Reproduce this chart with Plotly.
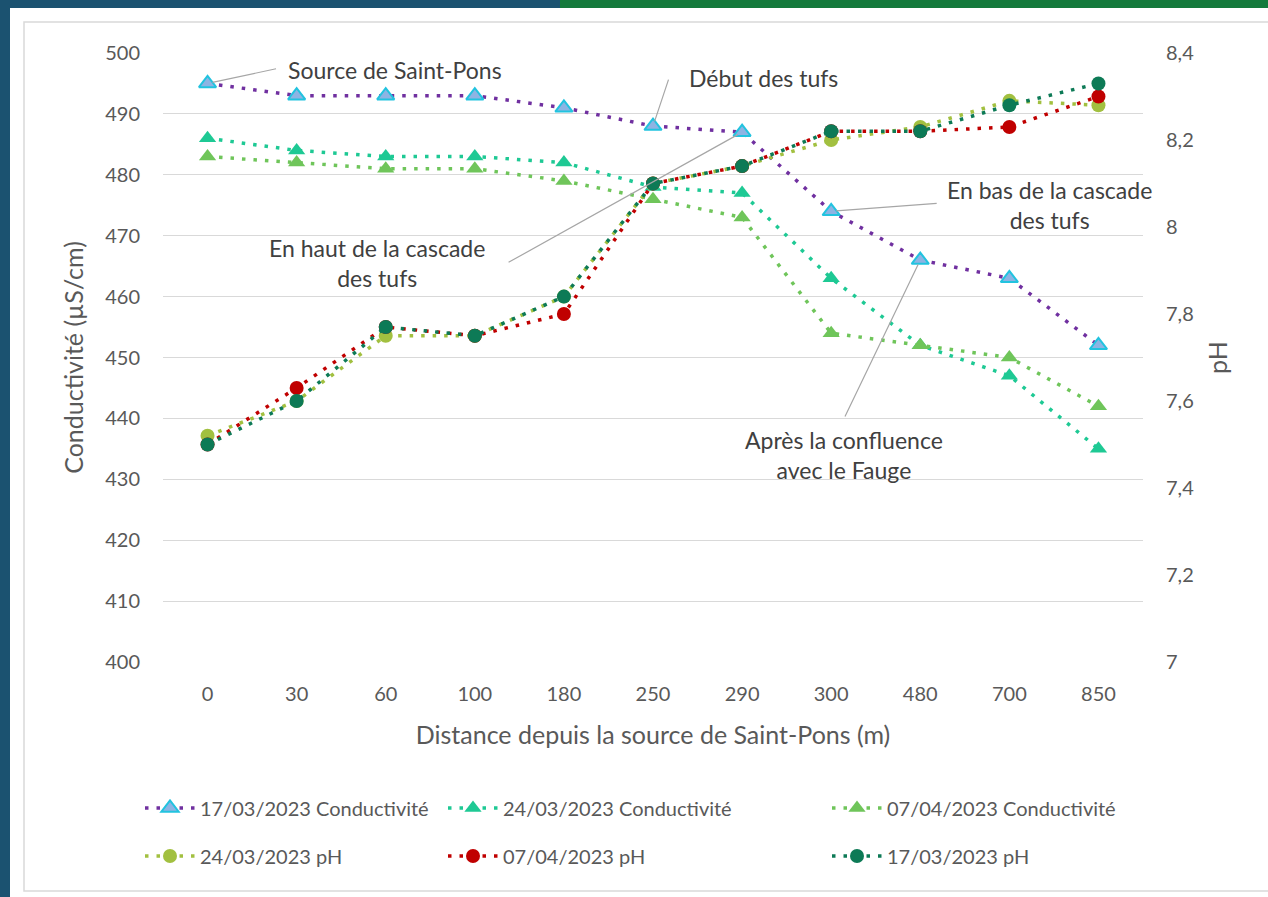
import plotly.graph_objects as go

# ---------------- data ----------------
distance = ["0", "30", "60", "100", "180", "250", "290", "300", "480", "700", "850"]
cond_1703 = [495, 493, 493, 493, 491, 488, 487, 474, 466, 463, 452]
cond_2403 = [486, 484, 483, 483, 482, 478, 477, 463, 452, 447, 435]
cond_0704 = [483, 482, 481, 481, 479, 476, 473, 454, 452, 450, 442]
ph_2403 = [7.52, 7.60, 7.75, 7.75, 7.84, 8.10, 8.14, 8.20, 8.23, 8.29, 8.28]
ph_0704 = [7.50, 7.63, 7.77, 7.75, 7.80, 8.10, 8.14, 8.22, 8.22, 8.23, 8.30]
ph_1703 = [7.50, 7.60, 7.77, 7.75, 7.84, 8.10, 8.14, 8.22, 8.22, 8.28, 8.33]

cond_ticks = [400, 410, 420, 430, 440, 450, 460, 470, 480, 490, 500]
ph_ticks = [7.0, 7.2, 7.4, 7.6, 7.8, 8.0, 8.2, 8.4]
ph_ticktext = ["7", "7,2", "7,4", "7,6", "7,8", "8", "8,2", "8,4"]

# annotated points (category index on the 17/03 conductivity series) and labels
ann_index = [0, 5, 7, 6, 8]
ann_text = ["Source de Saint-Pons", "Début des tufs", "En bas de la cascade<br>des tufs",
            "En haut de la cascade<br>des tufs", "Après la confluence<br>avec le Fauge"]

FONT = "Lato"
TXT = "#595959"
DASH = "3.5px,8px"

W, H = 1268, 897
L, R, T, B = 163, 125, 53, 235
PW, PH = W - L - R, H - T - B


def px2x(px):
    return (px - L) / PW


def py2y(py):
    return (H - B - py) / PH


fig = go.Figure()

series = [
    ("17/03/2023 Conductivité", cond_1703, "y", "#7030a0",
     dict(symbol="triangle-up", size=15, color="#8db4e3", line=dict(color="#22c3df", width=2)), "legend"),
    ("24/03/2023 Conductivité", cond_2403, "y", "#1ec994",
     dict(symbol="triangle-up", size=15, color="#1ec994", line=dict(width=0)), "legend3"),
    ("07/04/2023 Conductivité", cond_0704, "y", "#6fc55a",
     dict(symbol="triangle-up", size=15, color="#6fc55a", line=dict(width=0)), "legend5"),
    ("24/03/2023 pH", ph_2403, "y2", "#a2c040",
     dict(symbol="circle", size=14, color="#a2c040", line=dict(width=0)), "legend2"),
    ("07/04/2023 pH", ph_0704, "y2", "#c00000",
     dict(symbol="circle", size=14, color="#c00000", line=dict(width=0)), "legend4"),
    ("17/03/2023 pH", ph_1703, "y2", "#0d7a56",
     dict(symbol="circle", size=14, color="#0d7a56", line=dict(width=0)), "legend6"),
]

for name, vals, yax, col, mk, lg in series:
    fig.add_trace(go.Scatter(
        x=distance, y=vals, name=name, yaxis=yax, mode="lines+markers",
        line=dict(color=col, width=3.5, dash=DASH),
        marker=mk, legend=lg, showlegend=True,
    ))

# legends: 3 columns x 2 rows, positioned individually
leg_cols = [140, 443, 827]
leg_rows = [808, 856]
legend_layout = {}
names = ["legend", "legend2", "legend3", "legend4", "legend5", "legend6"]
k = 0
for c in leg_cols:
    for r in leg_rows:
        legend_layout[names[k]] = dict(
            x=px2x(c), y=py2y(r), xanchor="left", yanchor="middle",
            bgcolor="rgba(0,0,0,0)", borderwidth=0, itemwidth=50,
            font=dict(family=FONT, size=20, color=TXT),
        )
        k += 1

# label offsets (px) from the annotated point, and leader-line tail offsets
text_shift = [(187, 13), (110, 48), (218, 6), (-365, -131), (-76, -195)]
tail_off = [(70, -15), (16, -48), (107, -8), (-235, 131), (-76, 158)]

annotations = []
for i, txt, (xs, ys), (ax, ay) in zip(ann_index, ann_text, text_shift, tail_off):
    annotations.append(dict(
        x=i, y=cond_1703[i], xref="x", yref="y", text=txt, showarrow=False,
        xshift=xs, yshift=ys, font=dict(family=FONT, size=23, color="#404040"),
    ))
    annotations.append(dict(
        x=i, y=cond_1703[i], xref="x", yref="y", text="", showarrow=True,
        arrowhead=0, arrowcolor="#a6a6a6", arrowwidth=1.2, ax=ax, ay=ay, standoff=5,
    ))

shapes = [
    dict(type="rect", xref="paper", yref="paper", x0=px2x(560), x1=px2x(1280), y0=py2y(8), y1=py2y(-5),
         fillcolor="#147a3c", line=dict(width=0), layer="below"),
    dict(type="rect", xref="paper", yref="paper", x0=px2x(10), x1=px2x(1290), y0=py2y(905), y1=py2y(8),
         fillcolor="white", line=dict(width=0), layer="below"),
    dict(type="rect", xref="paper", yref="paper", x0=px2x(24), x1=px2x(1290), y0=py2y(891), y1=py2y(22),
         fillcolor="rgba(0,0,0,0)", line=dict(color="#d9d9d9", width=1.5), layer="below"),
]

fig.update_layout(
    width=W, height=H,
    margin=dict(l=L, r=R, t=T, b=B),
    paper_bgcolor="#1b5270",
    plot_bgcolor="rgba(0,0,0,0)",
    font=dict(family=FONT, color=TXT),
    separators=", ",
    shapes=shapes,
    annotations=annotations,
    xaxis=dict(
        type="category", range=[-0.5, len(distance) - 0.5],
        showgrid=False, showline=False, zeroline=False,
        tickfont=dict(family=FONT, size=20, color=TXT), ticks="", ticklabelstandoff=18,
        title=dict(text="Distance depuis la source de Saint-Pons (m)",
                   font=dict(family=FONT, size=25, color=TXT), standoff=22),
    ),
    yaxis=dict(
        range=[400, 500], tickvals=cond_ticks, showgrid=True, gridcolor="#d9d9d9", gridwidth=1.2,
        zeroline=False, showline=False, ticks="", ticklabelstandoff=22,
        tickfont=dict(family=FONT, size=20, color=TXT),
        title=dict(text="Conductivité (µS/cm)", font=dict(family=FONT, size=25, color=TXT), standoff=14),
    ),
    yaxis2=dict(
        overlaying="y", side="right", range=[7.0, 8.4], tickvals=ph_ticks, ticktext=ph_ticktext,
        showgrid=False, zeroline=False, showline=False, ticks="", ticklabelstandoff=22,
        tickfont=dict(family=FONT, size=20, color=TXT),
        title=dict(text="pH", font=dict(family=FONT, size=25, color=TXT), standoff=16),
    ),
    **legend_layout,
)

fig.write_html("out.html", config={"displayModeBar": False},
               post_script="document.body.style.margin='0px';")
